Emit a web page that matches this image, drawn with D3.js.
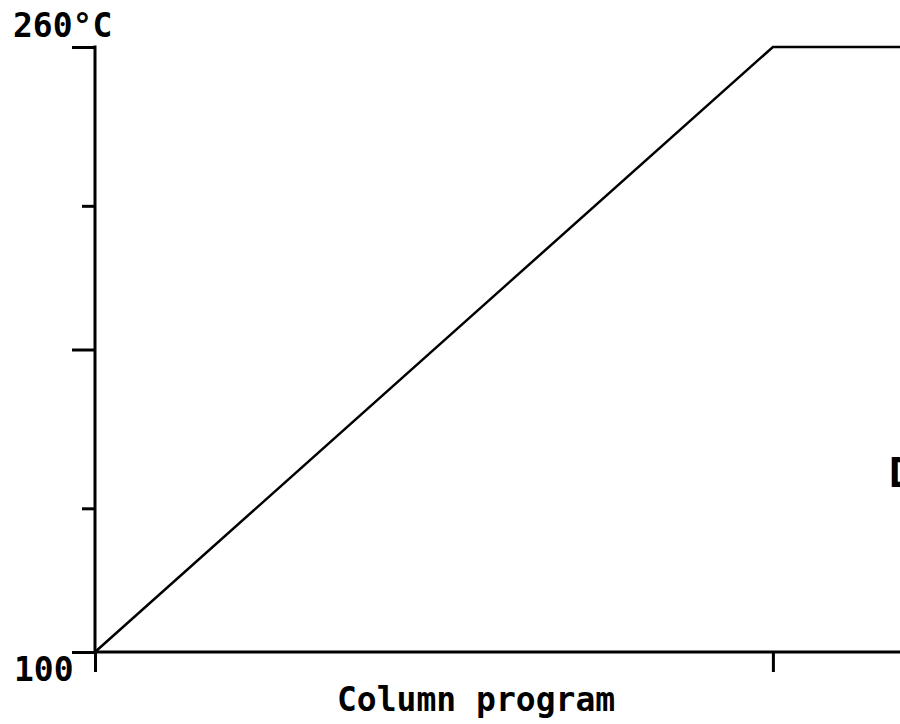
<!DOCTYPE html>
<html>
<head>
<meta charset="utf-8">
<script src="https://cdn.jsdelivr.net/npm/d3@7"></script>
<style>
  body { margin: 0; background: #fff; }
  svg text { font-family: "DejaVu Sans Mono", monospace; font-weight: bold; fill: #000; }
</style>
</head>
<body>
<div id="vizContainer"></div>
<script>
// oven program: time (min) vs temperature (°C)
const times = [0, 16, 19];
const temps = [100, 260, 260];
const majorTicks = [100, 180, 260];
const minorTicks = [138, 218];
const timeTicks = [0, 16];

const width = 900;
const height = 724;

const container = document.getElementById("vizContainer");
container.innerHTML = "";

const svg = d3.select(container)
  .append("svg")
  .attr("width", width)
  .attr("height", height);

const x = d3.scaleLinear().domain([0, 19]).range([95, 900]);
const y = d3.scaleLinear().domain([100, 260]).range([652, 47]);

// y axis with major / minor ticks pointing left
svg.append("g")
  .attr("transform", `translate(${x(0)},0)`)
  .call(d3.axisLeft(y).tickValues(majorTicks).tickSize(23).tickSizeOuter(0).tickFormat(""))
  .call(g => g.select(".domain").remove())
  .call(g => g.selectAll("line").attr("stroke", "#000").attr("stroke-width", 3));

svg.append("g")
  .attr("transform", `translate(${x(0)},0)`)
  .call(d3.axisLeft(y).tickValues(minorTicks).tickSize(13).tickFormat(""))
  .call(g => g.select(".domain").remove())
  .call(g => g.selectAll("line").attr("stroke", "#000").attr("stroke-width", 3));

svg.append("line")
  .attr("x1", x(0)).attr("x2", x(0))
  .attr("y1", y(260) - 1.5).attr("y2", y(100))
  .attr("stroke", "#000").attr("stroke-width", 3);

// x axis
svg.append("g")
  .attr("transform", `translate(0,${y(100)})`)
  .call(d3.axisBottom(x).tickValues(timeTicks).tickSize(20).tickSizeOuter(0).tickFormat(""))
  .call(g => g.select(".domain").remove())
  .call(g => g.selectAll("line").attr("stroke", "#000").attr("stroke-width", 3));

svg.append("line")
  .attr("x1", x(0)).attr("x2", width)
  .attr("y1", y(100)).attr("y2", y(100))
  .attr("stroke", "#000").attr("stroke-width", 3);

// temperature program line
const line = d3.line()
  .x((d, i) => x(times[i]))
  .y(d => y(d));

svg.append("path")
  .datum(temps)
  .attr("d", line)
  .attr("fill", "none")
  .attr("stroke", "#000")
  .attr("stroke-width", 2.5);

// labels
svg.append("text")
  .attr("x", 13).attr("y", 37)
  .attr("font-size", 33)
  .text(`${temps[1]}°C`);

svg.append("text")
  .attr("x", 14).attr("y", 681)
  .attr("font-size", 33)
  .text(majorTicks[0]);

svg.append("text")
  .attr("x", 337).attr("y", 711)
  .attr("font-size", 33)
  .text("Column program");

// label cut off at the right edge, as in the original
svg.append("text")
  .attr("x", 889).attr("y", 487)
  .attr("font-size", 41)
  .text("D");
</script>
</body>
</html>
